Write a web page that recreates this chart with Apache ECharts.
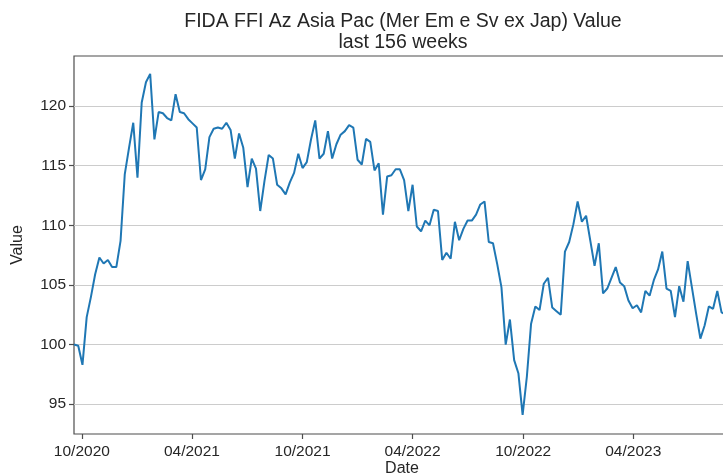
<!DOCTYPE html>
<html>
<head>
<meta charset="utf-8">
<script src="https://cdn.jsdelivr.net/npm/echarts@6/dist/echarts.min.js"></script>
<style>
  html, body { margin: 0; padding: 0; background: #fff; }
  #chart { width: 723px; height: 475px; }
</style>
</head>
<body>
<div id="chart"></div>
<script>
// weekly values, first week 2020-09-18
const startDate = '2020-09-18';
const values = [
  100.0, 99.9, 98.3, 102.3, 104.0, 105.9, 107.3, 106.8, 107.1, 106.5,
  106.5, 108.7, 114.3, 116.5, 118.6, 114.0, 120.3, 122.0, 122.7, 117.2,
  119.5, 119.4, 119.0, 118.8, 121.0, 119.5, 119.4, 118.9, 118.55, 118.2,
  113.8, 114.7, 117.4, 118.1, 118.2, 118.1, 118.6, 118.0, 115.6, 117.7,
  116.5, 113.2, 115.6, 114.75, 111.2, 113.7, 115.9, 115.6, 113.4, 113.1,
  112.6, 113.6, 114.4, 116.0, 114.8, 115.3, 117.2, 118.8, 115.6, 116.0,
  117.9, 115.6, 116.8, 117.6, 117.9, 118.4, 118.2, 115.5, 115.1, 117.25,
  117.0, 114.6, 115.2, 110.9, 114.1, 114.2, 114.7, 114.7, 113.8, 111.2,
  113.4, 109.9, 109.5, 110.4, 110.0, 111.3, 111.2, 107.1, 107.7, 107.2,
  110.3, 108.75, 109.7, 110.4, 110.4, 110.9, 111.75, 112.0, 108.6, 108.5,
  106.75, 104.8, 100.0, 102.1, 98.7, 97.6, 94.1, 97.3, 101.75, 103.2,
  102.9, 105.1, 105.6, 103.1, 102.8, 102.5, 107.8, 108.6, 110.1, 112.0,
  110.3, 110.8, 108.7, 106.6, 108.5, 104.3, 104.7, 105.6, 106.5, 105.2,
  104.9, 103.7, 103.05, 103.3, 102.7, 104.5, 104.1, 105.4, 106.3, 107.8,
  104.7, 104.5, 102.3, 104.9, 103.6, 107.0, 104.8, 102.6, 100.5, 101.6,
  103.2, 103.0, 104.5, 102.7, 102.5, 102.4
];
const xTicks = ['2020-10-01', '2021-04-01', '2021-10-01', '2022-04-01', '2022-10-01', '2023-04-01'];
const yTicks = [95, 100, 105, 110, 115, 120];

const DAY = 24 * 3600 * 1000;
const t0 = Date.parse(startDate + 'T00:00:00Z');
const dates = values.map((v, i) => t0 + i * 7 * DAY);
const seriesData = values.map((v, i) => [dates[i], v]);
const xTickTimes = xTicks.map(d => Date.parse(d + 'T00:00:00Z'));

const font = 'Liberation Sans, Arial, sans-serif';
const textColor = '#262626';
const chart = echarts.init(document.getElementById('chart'));
chart.setOption({
  backgroundColor: '#fff',
  animation: false,
  title: {
    text: 'FIDA FFI Az Asia Pac (Mer Em e Sv ex Jap) Value\nlast 156 weeks',
    left: 398,
    top: 6,
    textAlign: 'center',
    textStyle: { fontFamily: font, fontSize: 19.5, fontWeight: 'normal', color: textColor, lineHeight: 21 }
  },
  grid: {
    left: 74, width: 656, top: 56, bottom: 41,
    outerBoundsMode: 'none',
    containLabel: false,
    show: true, borderColor: '#4d4d4d', borderWidth: 1.2, backgroundColor: '#fff'
  },
  xAxis: {
    type: 'value',
    min: dates[0],
    max: dates[dates.length - 1],
    name: 'Date',
    nameLocation: 'middle',
    nameGap: 27,
    nameMoveOverlap: false,
    nameTextStyle: { fontFamily: font, fontSize: 16, color: textColor },
    axisLine: { show: false },
    axisTick: { show: true, customValues: xTickTimes, length: 5, lineStyle: { color: '#4d4d4d', width: 1.2 } },
    axisLabel: {
      customValues: xTickTimes,
      fontFamily: font, fontSize: 15.5, color: textColor, margin: 10,
      formatter: function (val) {
        const d = new Date(val);
        const m = String(d.getUTCMonth() + 1).padStart(2, '0');
        return m + '/' + d.getUTCFullYear();
      }
    },
    splitLine: { show: false }
  },
  yAxis: {
    type: 'value',
    min: 92.5,
    max: 124.2,
    name: 'Value',
    nameLocation: 'middle',
    nameGap: 48,
    nameMoveOverlap: false,
    nameTextStyle: { fontFamily: font, fontSize: 16, color: textColor },
    axisLine: { show: false },
    axisTick: { show: true, customValues: yTicks, length: 5, lineStyle: { color: '#4d4d4d', width: 1.2 } },
    axisLabel: { customValues: yTicks, fontFamily: font, fontSize: 15.5, color: textColor, margin: 8 },
    splitLine: { show: false }
  },
  series: [{
    type: 'line',
    data: seriesData,
    showSymbol: false,
    lineStyle: { color: '#1f77b4', width: 2 },
    markLine: {
      silent: true,
      symbol: 'none',
      label: { show: false },
      lineStyle: { color: '#cccccc', width: 1, type: 'solid' },
      z: 1,
      data: yTicks.map(v => ({ yAxis: v }))
    },
    z: 3
  }]
});
</script>
</body>
</html>
